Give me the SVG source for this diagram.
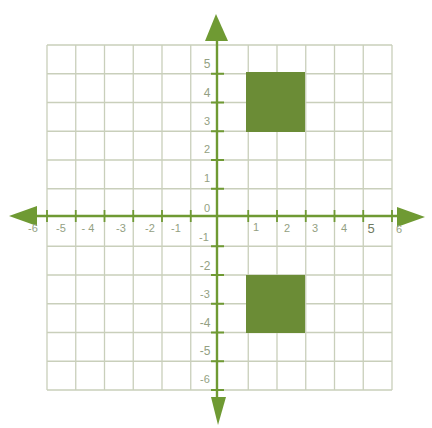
<svg xmlns="http://www.w3.org/2000/svg" width="432" height="428" viewBox="0 0 432 428">
<style>
.grid{stroke:#c9cfbb;stroke-width:1.3;fill:none}
.axis{stroke:#6f9a33;stroke-width:2.4;fill:none}
.tick{stroke:#6f9a33;stroke-width:1.8}
.head{fill:#6f9a33}
.box{fill:#6b8c36}
.lbl{font-family:"Liberation Sans",Arial,sans-serif;font-size:11px;fill:#939f82;text-anchor:middle}
</style>
<rect width="432" height="428" fill="#ffffff"/>
<g id="grid" class="grid">
<path d="M47,45V390M75.75,45V390M104.5,45V390M133.25,45V390M162,45V390M190.75,45V390M248.25,45V390M277,45V390M305.75,45V390M334.5,45V390M363.25,45V390M392,45V390"/>
<path d="M47,45H392M47,73.75H392M47,102.5H392M47,131.25H392M47,160H392M47,188.75H392M47,246.25H392M47,275H392M47,303.75H392M47,332.5H392M47,361.25H392M47,390H392"/>
</g>
<g id="shapes">
<rect class="box" x="246" y="72" width="59" height="60"/>
<rect class="box" x="246" y="275" width="59" height="58"/>
</g>
<g id="axes">
<path class="axis" d="M30,216H402M217,34V402"/>
<path class="tick" d="M47,210V222M75.75,210V222M104.5,210V222M133.25,210V222M162,210V222M190.75,210V222M248.25,210V222M277,210V222M305.75,210V222M334.5,210V222M363.25,210V222M392,210V222"/>
<path class="tick" d="M211,73.75H224M211,102.5H224M211,131.25H224M211,160H224M211,188.75H224M211,246.25H224M211,275H224M211,303.75H224M211,332.5H224M211,361.25H224M211,390H224"/>
<polygon class="head" points="216,14 205,41 228,41"/>
<polygon class="head" points="218,425 211,397 226,397"/>
<polygon class="head" points="9,216 37,206 37,226"/>
<polygon class="head" points="425,217 397,207 397,227"/>
</g>
<g id="labels" class="lbl">
<text x="33" y="232">-6</text>
<text x="61" y="232">-5</text>
<text x="88" y="232">- 4</text>
<text x="121" y="232">-3</text>
<text x="150" y="232">-2</text>
<text x="176" y="232">-1</text>
<text x="256" y="231">1</text>
<text x="287" y="232">2</text>
<text x="315" y="232">3</text>
<text x="344" y="232">4</text>
<text x="371" y="233" style="font-size:13px;fill:#6f7a60">5</text>
<text x="399" y="233">6</text>
<text x="207" y="68" style="font-size:12px">5</text>
<text x="207" y="97" style="font-size:12px">4</text>
<text x="207" y="125">3</text>
<text x="207" y="153">2</text>
<text x="207" y="182">1</text>
<text x="207" y="212">0</text>
<text x="204" y="241">-1</text>
<text x="205" y="270" style="font-size:12px">-2</text>
<text x="205" y="298">-3</text>
<text x="205" y="327" style="font-size:12px">-4</text>
<text x="205" y="355" style="font-size:12px">-5</text>
<text x="205" y="383">-6</text>
</g>
</svg>
